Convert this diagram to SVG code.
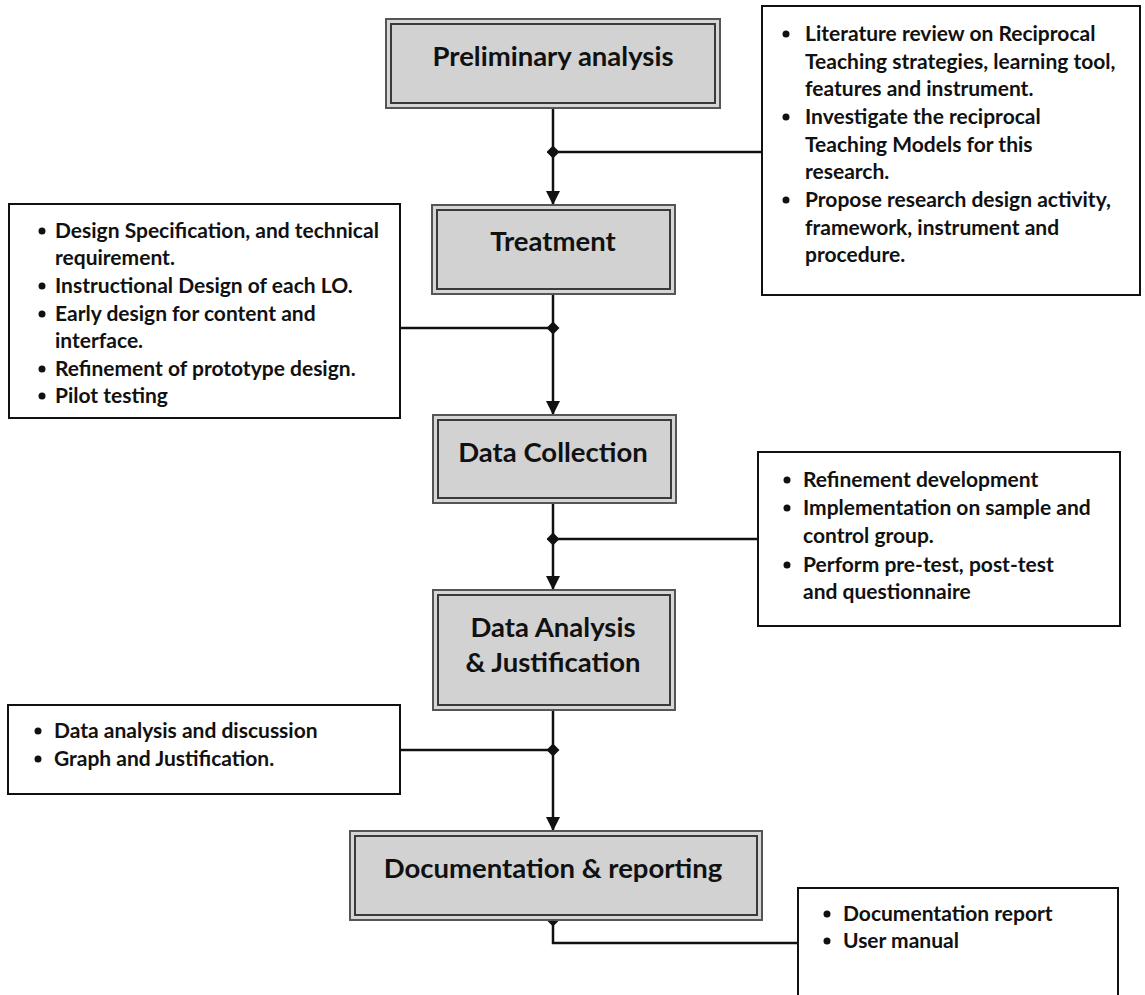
<svg xmlns="http://www.w3.org/2000/svg" width="1145" height="995" viewBox="0 0 1145 995">
<defs>
<style>
.outer{fill:#d6d6d6;stroke:#555;stroke-width:2}
.inner{fill:#d2d2d2;stroke:#3a3a3a;stroke-width:2}
.title{font-family:Lato,"Liberation Sans",sans-serif;font-weight:bold;font-size:27.5px;fill:#111;text-anchor:middle}
.box{fill:#fff;stroke:#111;stroke-width:2}
.txt{font-family:Lato,"Liberation Sans",sans-serif;font-weight:bold;font-size:21px;fill:#111}
.conn{fill:none;stroke:#111;stroke-width:2.5}
.dot{fill:#111}
</style>
<marker id="arr" viewBox="0 0 14 14" refX="14" refY="7" markerWidth="14" markerHeight="14" markerUnits="userSpaceOnUse" orient="auto">
<path d="M0,0 L14,7 L0,14 Z" fill="#111"/>
</marker>
<marker id="dia" viewBox="0 0 12 12" refX="6" refY="6" markerWidth="13" markerHeight="13" markerUnits="userSpaceOnUse" orient="auto">
<path d="M6,0 L12,6 L6,12 L0,6 Z" fill="#111"/>
</marker>
</defs>
<rect width="1145" height="995" fill="#fff"/>

<g id="connectors">
<line class="conn" x1="553" y1="108" x2="553" y2="205" marker-end="url(#arr)"/>
<line class="conn" x1="553" y1="152" x2="762" y2="152" marker-start="url(#dia)"/>
<line class="conn" x1="553" y1="294" x2="553" y2="415" marker-end="url(#arr)"/>
<line class="conn" x1="553" y1="328" x2="400" y2="328" marker-start="url(#dia)"/>
<line class="conn" x1="553" y1="503" x2="553" y2="590" marker-end="url(#arr)"/>
<line class="conn" x1="553" y1="539" x2="758" y2="539" marker-start="url(#dia)"/>
<line class="conn" x1="553" y1="710" x2="553" y2="831" marker-end="url(#arr)"/>
<line class="conn" x1="553" y1="750" x2="400" y2="750" marker-start="url(#dia)"/>
<path class="conn" d="M553,920 L553,943 L798,943" marker-start="url(#dia)"/>
</g>

<g id="preliminary">
<rect class="outer" x="386" y="19" width="334" height="89"/>
<rect class="inner" x="391" y="24" width="324" height="79"/>
<text class="title" x="553" y="66">Preliminary analysis</text>
</g>

<g id="treatment">
<rect class="outer" x="432" y="205" width="243" height="89"/>
<rect class="inner" x="437" y="210" width="233" height="79"/>
<text class="title" x="553" y="251">Treatment</text>
</g>

<g id="data-collection">
<rect class="outer" x="433" y="415" width="243" height="88"/>
<rect class="inner" x="438" y="420" width="233" height="78"/>
<text class="title" x="553" y="462">Data Collection</text>
</g>

<g id="data-analysis">
<rect class="outer" x="433" y="590" width="242" height="120"/>
<rect class="inner" x="438" y="595" width="232" height="110"/>
<text class="title" x="553" y="637">Data Analysis</text>
<text class="title" x="553" y="672">&amp; Justification</text>
</g>

<g id="documentation">
<rect class="outer" x="350" y="831" width="412" height="89"/>
<rect class="inner" x="355" y="836" width="402" height="79"/>
<text class="title" x="553" y="878">Documentation &amp; reporting</text>
</g>

<g id="note-preliminary">
<rect class="box" x="762" y="6" width="378" height="289"/>
<circle class="dot" cx="786" cy="34" r="3.5"/>
<circle class="dot" cx="786" cy="117" r="3.5"/>
<circle class="dot" cx="786" cy="200" r="3.5"/>
<text class="txt" x="805" y="41">Literature review on Reciprocal</text>
<text class="txt" x="805" y="69">Teaching strategies, learning tool,</text>
<text class="txt" x="805" y="96">features and instrument.</text>
<text class="txt" x="805" y="124">Investigate the reciprocal</text>
<text class="txt" x="805" y="152">Teaching Models for this</text>
<text class="txt" x="805" y="179">research.</text>
<text class="txt" x="805" y="207">Propose research design activity,</text>
<text class="txt" x="805" y="235">framework, instrument and</text>
<text class="txt" x="805" y="262">procedure.</text>
</g>

<g id="note-treatment">
<rect class="box" x="9" y="204" width="391" height="214"/>
<circle class="dot" cx="42" cy="231" r="3.5"/>
<circle class="dot" cx="42" cy="286" r="3.5"/>
<circle class="dot" cx="42" cy="314" r="3.5"/>
<circle class="dot" cx="42" cy="369" r="3.5"/>
<circle class="dot" cx="42" cy="396" r="3.5"/>
<text class="txt" x="55" y="238">Design Specification, and technical</text>
<text class="txt" x="55" y="265">requirement.</text>
<text class="txt" x="55" y="293">Instructional Design of each LO.</text>
<text class="txt" x="55" y="321">Early design for content and</text>
<text class="txt" x="55" y="348">interface.</text>
<text class="txt" x="55" y="376">Refinement of prototype design.</text>
<text class="txt" x="55" y="403">Pilot testing</text>
</g>

<g id="note-collection">
<rect class="box" x="758" y="452" width="362" height="174"/>
<circle class="dot" cx="787" cy="480" r="3.5"/>
<circle class="dot" cx="787" cy="508" r="3.5"/>
<circle class="dot" cx="787" cy="565" r="3.5"/>
<text class="txt" x="803" y="487">Refinement development</text>
<text class="txt" x="803" y="515">Implementation on sample and</text>
<text class="txt" x="803" y="543">control group.</text>
<text class="txt" x="803" y="572">Perform pre-test, post-test</text>
<text class="txt" x="803" y="599">and  questionnaire</text>
</g>

<g id="note-analysis">
<rect class="box" x="8" y="705" width="392" height="89"/>
<circle class="dot" cx="38" cy="731" r="3.5"/>
<circle class="dot" cx="38" cy="759" r="3.5"/>
<text class="txt" x="54" y="738">Data analysis and discussion</text>
<text class="txt" x="54" y="766">Graph and Justification.</text>
</g>

<g id="note-documentation">
<rect class="box" x="798" y="888" width="320" height="120"/>
<circle class="dot" cx="827" cy="914" r="3.5"/>
<circle class="dot" cx="827" cy="941" r="3.5"/>
<text class="txt" x="843" y="921">Documentation report</text>
<text class="txt" x="843" y="948">User manual</text>
</g>
</svg>
